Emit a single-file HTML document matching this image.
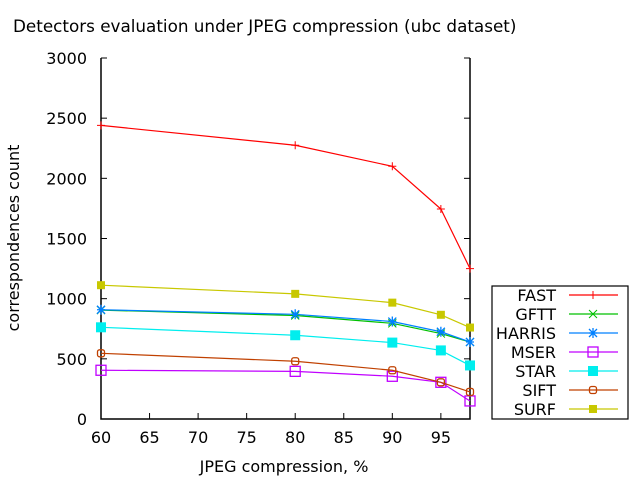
<!DOCTYPE html>
<html><head><meta charset="utf-8"><style>
body{margin:0;background:#fff}
svg text{font-family:"DejaVu Sans","Liberation Sans",sans-serif;font-size:16px;fill:#000}
</style></head><body>
<svg id="c" width="640" height="480" xmlns="http://www.w3.org/2000/svg">
<rect width="640" height="480" fill="#fff"/>
<text x="13" y="32" style="font-size:16.8px">Detectors evaluation under JPEG compression (ubc dataset)</text>
<text x="284" y="472" text-anchor="middle">JPEG compression, %</text>
<text transform="translate(19,238) rotate(-90)" text-anchor="middle">correspondences count</text>
<g id="axes"></g><g id="series"></g><g id="legend"></g>
</svg>
<script>
const xVals=[60,80,90,95,98];
const seriesNames=["FAST","GFTT","HARRIS","MSER","STAR","SIFT","SURF"];
const fast=[2440,2275,2100,1745,1250];
const gftt=[905,860,795,710,640];
const harris=[908,870,810,725,640];
const mser=[405,396,355,305,150];
const star=[762,696,635,570,445];
const sift=[546,480,405,305,225];
const surf=[1112,1040,967,866,760];
const xTicks=[60,65,70,75,80,85,90,95];
const yTicks=[0,500,1000,1500,2000,2500,3000];
const colors=["#ff0000","#00c000","#0080ff","#c000ff","#00eeee","#c04000","#c8c800"];
const markers=["plus","x","star","sqo","sqf","circ","sqf2"];
const data=[fast,gftt,harris,mser,star,sift,surf];
const X0=101,X1=470,Y0=419,Y1=58;
const sx=v=>X0+(v-60)*(X1-X0)/38;
const sy=v=>Y0-v*(Y0-Y1)/3000;
const NS="http://www.w3.org/2000/svg";
function mk(t,a,p){const e=document.createElementNS(NS,t);for(const k in a)e.setAttribute(k,a[k]);p.appendChild(e);return e;}
const ax=document.getElementById('axes');
const frame=mk('path',{d:`M${X0},${Y1}V${Y0}H${X1}V${Y1}`,fill:'none',stroke:'#000','stroke-width':1.5},ax);


xTicks.forEach(t=>{const x=sx(t);
mk('line',{x1:x,x2:x,y1:Y0,y2:Y0-6,stroke:'#000'},ax);
const tx=mk('text',{x:x,y:Y0+24,'text-anchor':'middle'},ax);tx.textContent=t;

});
yTicks.forEach(t=>{const y=sy(t);
mk('line',{x1:X0,x2:X0+6,y1:y,y2:y,stroke:'#000'},ax);
mk('line',{x1:X1,x2:X1-6,y1:y,y2:y,stroke:'#000'},ax);
const tx=mk('text',{x:X0-14,y:y+6,'text-anchor':'end'},ax);tx.textContent=t;

});
function marker(g,m,x,y,c){
 if(m==='plus')mk('path',{d:`M${x-4},${y}h8M${x},${y-4}v8`,stroke:c,fill:'none'},g);
 else if(m==='x')mk('path',{d:`M${x-4},${y-4}l8,8M${x-4},${y+4}l8,-8`,stroke:c,fill:'none'},g);
 else if(m==='star')mk('path',{d:`M${x-4},${y}h8M${x},${y-5}v10M${x-4},${y-4}l8,8M${x-4},${y+4}l8,-8`,stroke:c,fill:'none','stroke-width':1.3},g);
 else if(m==='sqo')mk('rect',{x:x-5,y:y-5,width:10,height:10,stroke:c,fill:'none','stroke-width':1.3},g);
 else if(m==='sqf')mk('rect',{x:x-5,y:y-5,width:10,height:10,fill:c},g);
 else if(m==='circ')mk('rect',{x:x-3.5,y:y-3.5,width:7,height:7,rx:2,stroke:c,fill:'none','stroke-width':1.3},g);
 else mk('rect',{x:x-4,y:y-4,width:8,height:8,fill:c},g);
}
const sg=document.getElementById('series');
data.forEach((d,i)=>{const g=mk('g',{},sg);


mk('polyline',{points:d.map((v,j)=>sx(xVals[j])+','+sy(v)).join(' '),fill:'none',stroke:colors[i],'stroke-width':1.2},g);
d.forEach((v,j)=>marker(g,markers[i],sx(xVals[j]),sy(v),colors[i]));});
const lg=document.getElementById('legend');
const box=mk('rect',{x:492,y:286,width:136,height:133,fill:'#fff',stroke:'#000','stroke-width':1.2},lg);


seriesNames.forEach((n,i)=>{const y=295+i*19;const g=mk('g',{},lg);


const t=mk('text',{x:556,y:y+6,'text-anchor':'end'},g);t.textContent=n;
mk('line',{x1:569,x2:618,y1:y,y2:y,stroke:colors[i],'stroke-width':1.2},g);
marker(g,markers[i],593,y,colors[i]);});
</script>
</body></html>
